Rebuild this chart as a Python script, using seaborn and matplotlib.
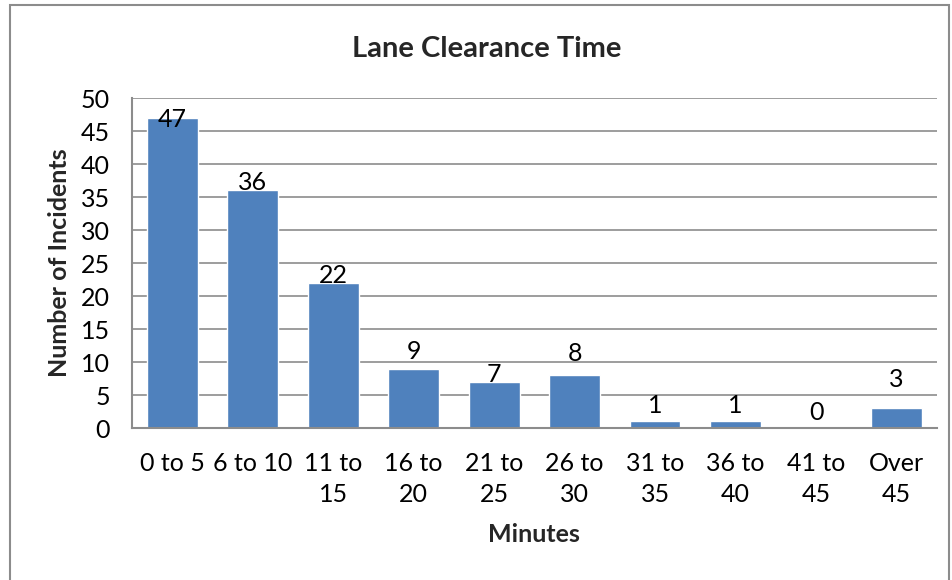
import matplotlib
matplotlib.use("Agg")
import matplotlib.pyplot as plt
import pandas as pd
import seaborn as sns
from matplotlib.patches import Rectangle

# chart data
categories = ["0 to 5", "6 to 10", "11 to\n15", "16 to\n20", "21 to\n25",
              "26 to\n30", "31 to\n35", "36 to\n40", "41 to\n45", "Over\n45"]
incidents = [47, 36, 22, 9, 7, 8, 1, 1, 0, 3]
y_ticks = [0, 5, 10, 15, 20, 25, 30, 35, 40, 45, 50]

# label offsets above the bar top (points), as placed in the original
label_offsets = [-6.5, 0, 0, 7, 0, 10, 6, 6, 6, 15]

df = pd.DataFrame({"bin": categories, "count": incidents})

sns.set_style("white")
plt.rcParams["font.family"] = ["Lato", "DejaVu Sans"]

fig = plt.figure(figsize=(9.53, 5.80), dpi=100)
ax = fig.add_axes([0.1385, 0.262, 0.8445, 0.569])

sns.barplot(data=df, x="bin", y="count", color="#4F81BD", saturation=1,
            width=0.63, ax=ax)

for p, v, off in zip(ax.patches, incidents, label_offsets):
    ax.annotate(str(v), (p.get_x() + p.get_width() / 2, p.get_height()),
                xytext=(0, off), textcoords="offset points",
                ha="center", va="baseline", fontsize=18, color="black")

ax.set_ylim(0, 50)
ax.set_yticks(y_ticks)
ax.set_xlim(-0.5, len(categories) - 0.5)
ax.yaxis.grid(True, color="#8c8c8c", linewidth=1.2)
ax.set_axisbelow(True)
for s in ["top", "right"]:
    ax.spines[s].set_visible(False)
for s in ["left", "bottom"]:
    ax.spines[s].set_color("#8c8c8c")
    ax.spines[s].set_linewidth(1.5)
ax.tick_params(axis="both", length=0, labelsize=18, colors="black")
ax.tick_params(axis="x", pad=17)
ax.tick_params(axis="y", pad=16)
for lbl in ax.get_xticklabels():
    lbl.set_linespacing(1.45)

ax.set_xlabel("Minutes", fontsize=18, fontweight="bold", labelpad=12)
ax.set_ylabel("Number of Incidents", fontsize=18, fontweight="bold", labelpad=7)
fig.text(0.511, 0.916, "Lane Clearance Time", ha="center", va="center",
         fontsize=21, fontweight="bold")

# outer chart border
fig.patches.append(Rectangle((0.011, -0.01), 0.985, 1.001, transform=fig.transFigure,
                             fill=False, edgecolor="#8c8c8c", linewidth=1.5))

fig.savefig("out.png", dpi=100)
